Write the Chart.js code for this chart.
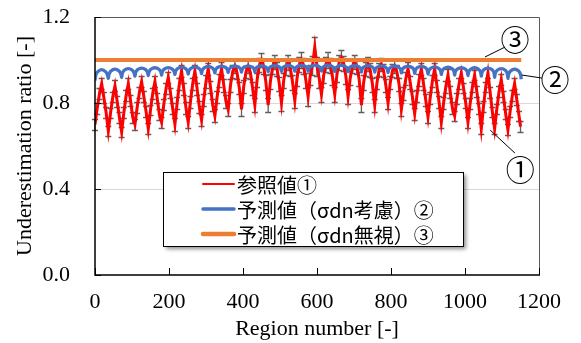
<!DOCTYPE html>
<html>
<head>
<meta charset="utf-8">
<script src="https://cdn.jsdelivr.net/npm/chart.js@4.4.1/dist/chart.umd.min.js"></script>
<style>
  html,body{margin:0;padding:0;background:#fff;}
  #wrap{width:581px;height:343px;}
</style>
</head>
<body>
<div id="wrap"><canvas id="chart" width="581" height="343"></canvas></div>
<script>
// region numbering: 32 blocks of 36 regions
const blockLen = 36;

// reference values (red), sampled at these offsets inside each block
const refOffsets = [0, 6, 12, 18, 24, 30];
const refRows = [
  [.70, .776, .843, .89, .824, .757],
  [.67, .754, .828, .88, .807, .733],
  [.665, .755, .834, .89, .811, .733],
  [.70, .78, .85, .90, .83, .76],
  [.68, .768, .845, .90, .823, .746],
  [.71, .794, .868, .92, .847, .773],
  [.70, .80, .888, .95, .863, .775],
  [.71, .806, .89, .95, .866, .782],
  [.72, .816, .90, .96, .876, .792],
  [.74, .828, .905, .96, .883, .806],
  [.77, .88, .946, .97, .94, .87],
  [.77, .878, .944, .97, .942, .868],
  [.79, .906, .975, 1.00, .969, .895],
  [.79, .90, .966, .99, .96, .89],
  [.80, .905, .967, .99, .962, .895],
  [.81, .915, .977, 1.00, .972, .905],
  [.83, .93, .975, 1.06, .97, .915],
  [.84, .928, .981, 1.00, .976, .92],
  [.84, .934, .99, 1.01, .985, .925],
  [.83, .918, .971, .99, .966, .91],
  [.79, .895, .957, .98, .952, .885],
  [.79, .893, .955, .98, .95, .883],
  [.80, .894, .95, .97, .945, .885],
  [.77, .846, .913, .96, .894, .827],
  [.75, .834, .908, .96, .887, .813],
  [.735, .825, .904, .96, .881, .803],
  [.71, .798, .875, .93, .853, .776],
  [.74, .82, .89, .94, .87, .80],
  [.71, .798, .875, .93, .853, .776],
  [.68, .784, .875, .94, .849, .758],
  [.68, .772, .853, .91, .83, .749],
  [.675, .761, .836, .89, .815, .74]
];
const refLast = {x: 1150, y: .69};
// error bar half-length for each block
const refErr = [.025,.025,.025,.025,.025,.025,.028,.028,.028,.03,.03,.03,.033,.033,.035,.035,
                .045,.035,.035,.033,.033,.03,.03,.03,.028,.028,.028,.025,.025,.025,.025,.025];

// prediction with sigma_dn (blue), one arc per block
const predOffsets = [0, 2, 7, 18, 29, 34];
const predRows = [
  [.905, .928, .945, .955, .945, .928],
  [.915, .934, .949, .958, .949, .934],
  [.920, .938, .952, .960, .952, .938],
  [.925, .942, .955, .962, .955, .942],
  [.928, .944, .957, .964, .957, .944],
  [.930, .946, .958, .965, .958, .946],
  [.933, .948, .960, .967, .960, .948],
  [.935, .950, .961, .968, .961, .950],
  [.937, .952, .963, .970, .963, .952],
  [.940, .954, .965, .971, .965, .954],
  [.942, .956, .966, .972, .966, .956],
  [.944, .957, .967, .973, .967, .957],
  [.945, .958, .968, .974, .968, .958],
  [.946, .959, .969, .975, .969, .959],
  [.947, .960, .969, .975, .969, .960],
  [.948, .961, .970, .976, .970, .961],
  [.948, .961, .970, .976, .970, .961],
  [.948, .961, .970, .976, .970, .961],
  [.947, .960, .969, .975, .969, .960],
  [.946, .959, .969, .975, .969, .959],
  [.945, .958, .968, .974, .968, .958],
  [.944, .957, .967, .973, .967, .957],
  [.942, .956, .966, .972, .966, .956],
  [.940, .954, .965, .971, .965, .954],
  [.938, .952, .964, .970, .964, .952],
  [.935, .950, .961, .968, .961, .950],
  [.933, .948, .960, .967, .960, .948],
  [.930, .946, .958, .965, .958, .946],
  [.928, .944, .957, .964, .957, .944],
  [.925, .942, .955, .962, .955, .942],
  [.920, .938, .952, .960, .952, .938],
  [.915, .934, .949, .958, .949, .934]
];
const predLast = {x: 1152, y: .910};

// prediction ignoring sigma_dn (orange)
const flatX = [0, 1152];
const flatY = [1.0, 1.0];

const seriesLabels = ['参照値①', '予測値（σdn考慮）②', '予測値（σdn無視）③'];
const seriesColors = ['#FF0000', '#4472C4', '#ED7D31'];
const yTicks = [0, 0.4, 0.8, 1.2];
const xTicks = [0, 200, 400, 600, 800, 1000, 1200];

const refData = refRows.flatMap((row,k)=>row.map((v,j)=>({x:k*blockLen+refOffsets[j], y:v}))).concat([refLast]);
const refErrData = refRows.flatMap((row,k)=>row.map(()=>refErr[k])).concat([refErr[refErr.length-1]]);
const predData = predRows.flatMap((row,k)=>row.map((v,j)=>({x:k*blockLen+predOffsets[j], y:v}))).concat([predLast]);
const flatData = flatX.map((x,i)=>({x, y:flatY[i]}));

const SERIF = '"Liberation Serif"';
const CJK = '"Noto Sans CJK JP", sans-serif';

// circled-number callouts, in data units
const callouts = [
  {text:'①', at:[1149, .488], from:[1068, .674], to:[1135, .567]},
  {text:'②', at:[1243, .907], from:[1154, .930], to:[1208, .916]},
  {text:'③', at:[1135, 1.093], from:[1054, 1.014], to:[1108, 1.060]}
];

const errorBars = {
  id:'errorBars',
  beforeDatasetsDraw(chart){
    const idx = chart.data.datasets.findIndex(d=>d.errors);
    const meta = chart.getDatasetMeta(idx);
    const ds = chart.data.datasets[idx];
    const y = chart.scales.y, ctx = chart.ctx;
    ctx.save();
    ctx.strokeStyle = '#5f5f5f';
    ctx.lineWidth = 1.3;
    meta.data.forEach((pt,i)=>{
      const v = ds.data[i].y, e = ds.errors[i];
      const y1 = Math.round(y.getPixelForValue(v+e))+.5, y2 = Math.round(y.getPixelForValue(v-e))+.5;
      ctx.beginPath();
      ctx.moveTo(pt.x, y1); ctx.lineTo(pt.x, y2);
      ctx.moveTo(pt.x-3, y1); ctx.lineTo(pt.x+3, y1);
      ctx.moveTo(pt.x-3, y2); ctx.lineTo(pt.x+3, y2);
      ctx.stroke();
    });
    ctx.restore();
  }
};

const frame = {
  id:'frame',
  afterDatasetsDraw(chart){
    const {ctx, chartArea:ca, scales:{x,y}} = chart;
    ctx.save();
    // axes and border
    ctx.lineWidth = 1;
    ctx.strokeStyle = '#595959';
    ctx.beginPath();
    ctx.moveTo(ca.left, ca.top+.5); ctx.lineTo(ca.right+.5, ca.top+.5); ctx.lineTo(ca.right+.5, ca.bottom);
    ctx.stroke();
    ctx.strokeStyle = '#000';
    ctx.lineWidth = 1.5;
    ctx.beginPath();
    ctx.moveTo(ca.left, ca.top); ctx.lineTo(ca.left, ca.bottom); ctx.lineTo(ca.right+1, ca.bottom);
    ctx.stroke();
    // inward tick marks
    ctx.lineWidth = 1;
    ctx.beginPath();
    yTicks.forEach(v=>{ const py = Math.round(y.getPixelForValue(v))+.5; ctx.moveTo(ca.left, py); ctx.lineTo(ca.left+6, py); });
    xTicks.forEach(v=>{ const px = Math.round(x.getPixelForValue(v))+.5; ctx.moveTo(px, ca.bottom); ctx.lineTo(px, ca.bottom-7); });
    ctx.stroke();

    // callouts
    ctx.strokeStyle = '#000';
    ctx.lineWidth = 1;
    ctx.fillStyle = '#000';
    ctx.font = '29px ' + CJK;
    ctx.textAlign = 'center';
    ctx.textBaseline = 'middle';
    callouts.forEach(c=>{
      ctx.beginPath();
      ctx.moveTo(x.getPixelForValue(c.from[0]), y.getPixelForValue(c.from[1]));
      ctx.lineTo(x.getPixelForValue(c.to[0]), y.getPixelForValue(c.to[1]));
      ctx.stroke();
      ctx.fillText(c.text, x.getPixelForValue(c.at[0]), y.getPixelForValue(c.at[1]));
    });

    // legend box
    const bx = ca.left+68, by = ca.top+155, bw = 300, bh = 74;
    ctx.save();
    ctx.shadowColor = 'rgba(0,0,0,0.45)';
    ctx.shadowBlur = 4;
    ctx.shadowOffsetX = 3;
    ctx.shadowOffsetY = 3;
    ctx.fillStyle = '#fff';
    ctx.fillRect(bx, by, bw, bh);
    ctx.restore();
    ctx.strokeStyle = '#000';
    ctx.lineWidth = 1;
    ctx.strokeRect(bx+.5, by+.5, bw, bh);
    const widths = [2, 3.5, 4.5];
    ctx.font = '20px ' + CJK;
    ctx.textAlign = 'left';
    ctx.textBaseline = 'middle';
    seriesLabels.forEach((lab,i)=>{
      const ry = by + 12 + i*25;
      ctx.strokeStyle = seriesColors[i];
      ctx.lineWidth = widths[i];
      ctx.lineCap = 'round';
      ctx.beginPath(); ctx.moveTo(bx+40, ry); ctx.lineTo(bx+71, ry); ctx.stroke();
      ctx.fillStyle = '#000';
      ctx.fillText(lab, bx+74, ry+1);
    });
    ctx.restore();
  }
};

new Chart(document.getElementById('chart'), {
  type:'line',
  data:{
    datasets:[
      {label:seriesLabels[2], data:flatData, borderColor:seriesColors[2], borderWidth:4, pointRadius:0, order:0},
      {label:seriesLabels[1], data:predData, borderColor:seriesColors[1], borderWidth:3.3, pointRadius:0, tension:.4, order:1},
      {label:seriesLabels[0], data:refData, errors:refErrData, borderColor:seriesColors[0], borderWidth:3, pointRadius:0, tension:0, order:2}
    ]
  },
  options:{
    responsive:false,
    animation:false,
    events:[],
    layout:{padding:{left:0, right:42, top:17, bottom:0}},
    plugins:{legend:{display:false}, tooltip:{enabled:false}},
    scales:{
      x:{
        type:'linear', min:0, max:1200,
        afterFit(s){ s.height = 68; s.paddingLeft = 0; s.paddingRight = 0; },
        ticks:{stepSize:200, padding:14, color:'#000', font:{family:SERIF, size:22}, callback:v=>String(v)},
        grid:{display:false, drawTicks:false},
        border:{display:false},
        title:{display:true, text:'Region number [-]', color:'#000', font:{family:SERIF, size:22}, padding:{top:0, bottom:1}}
      },
      y:{
        min:0, max:1.2,
        afterFit(s){ s.width = 95; s.paddingTop = 0; s.paddingBottom = 0; },
        ticks:{stepSize:.4, padding:25, color:'#000', font:{family:SERIF, size:22}, callback:v=>v.toFixed(1)},
        grid:{drawTicks:false, lineWidth:1, color:c=>(c.tick.value>0.01 && c.tick.value<1.19)?'#d9d9d9':'rgba(0,0,0,0)'},
        border:{display:false},
        title:{display:true, text:'Underestimation ratio [-]', color:'#000', font:{family:SERIF, size:22}, padding:{top:12, bottom:0}}
      }
    }
  },
  plugins:[errorBars, frame]
});
</script>
</body>
</html>
